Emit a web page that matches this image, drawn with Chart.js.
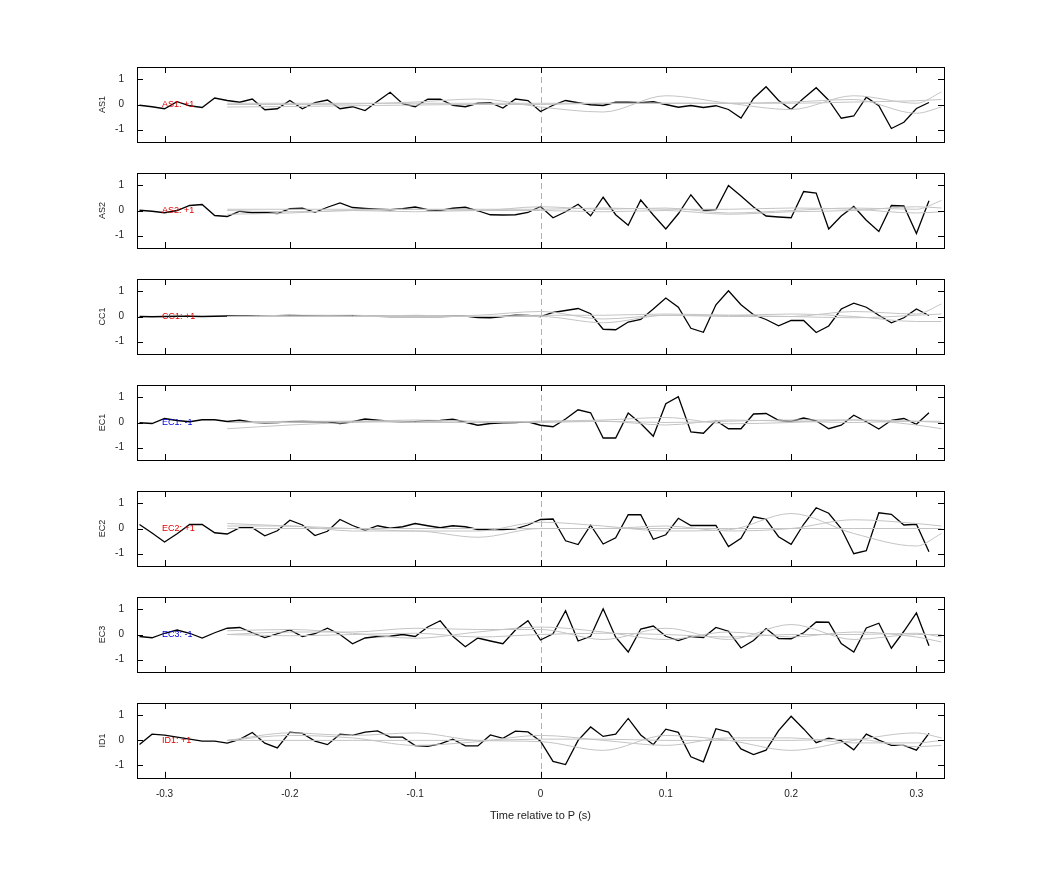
<!DOCTYPE html>
<html><head><meta charset="utf-8">
<script src="https://cdn.jsdelivr.net/npm/chart.js@4"></script>
<style>body{margin:0;background:#fff;width:1042px;height:875px;position:relative;overflow:hidden}.w{position:absolute;left:0;width:1042px}</style>
</head><body>
<script>
const channels=["AS1","AS2","CC1","EC1","EC2","EC3","ID1"];
const polarity=["+1","+1","+1","-1","+1","-1","+1"];
const tStart=-0.32, tStep=0.01;
const AS1=[-0.03,-0.09,-0.17,0.11,-0.05,-0.12,0.26,0.16,0.09,0.22,-0.21,-0.17,0.16,-0.17,0.08,0.18,-0.17,-0.09,-0.24,0.13,0.49,0.03,-0.09,0.21,0.21,-0.03,-0.09,0.05,0.07,-0.14,0.22,0.16,-0.28,-0.03,0.16,0.07,-0.01,-0.04,0.09,0.09,0.07,0.11,0,-0.11,-0.04,-0.12,-0.05,-0.2,-0.54,0.24,0.71,0.16,-0.2,0.25,0.67,0.17,-0.55,-0.46,0.29,-0.05,-0.96,-0.71,-0.16,0.08];
const AS2=[0.01,-0.03,-0.09,0,0.2,0.24,-0.2,-0.24,-0.03,-0.09,-0.08,-0.12,0.07,0.09,-0.07,0.13,0.3,0.12,0.08,0.05,0.03,0.07,0.14,0.03,0,0.09,0.13,-0.01,-0.17,-0.18,-0.17,-0.08,0.16,-0.29,-0.05,0.25,-0.21,0.53,-0.17,-0.59,0.42,-0.18,-0.74,-0.13,0.63,0.01,0.04,1.0,0.58,0.14,-0.22,-0.26,-0.29,0.76,0.70,-0.74,-0.22,0.16,-0.39,-0.84,0.2,0.18,-0.92,0.39];
const CC1=[0,-0.01,0,0.01,0.01,0,0.01,0.02,0.02,0.03,0.02,0.03,0.04,0.03,0.02,0.01,0.02,0.03,0.02,0.01,0.0,0.01,0.0,0.01,0.0,0.01,0.02,-0.04,-0.05,0.0,0.05,0.04,0,0.16,0.24,0.32,0.11,-0.51,-0.53,-0.22,-0.12,0.3,0.74,0.37,-0.47,-0.63,0.47,1.03,0.47,0.07,-0.12,-0.37,-0.16,-0.16,-0.64,-0.38,0.3,0.53,0.37,0.05,-0.25,-0.05,0.3,0.04];
const EC1=[-0.01,-0.04,0.16,0.08,0.03,0.11,0.11,0.04,0.09,0.01,-0.01,0,0.03,0.04,0.03,0.03,-0.04,0.03,0.14,0.09,0.05,0.03,0.03,0.07,0.08,0.13,0.01,-0.11,-0.04,-0.01,0,0.03,-0.11,-0.17,0.14,0.51,0.39,-0.62,-0.62,0.38,-0.04,-0.55,0.75,1.03,-0.38,-0.43,0.08,-0.25,-0.25,0.34,0.36,0.09,0.04,0.18,0.07,-0.25,-0.11,0.29,0.03,-0.26,0.09,0.16,-0.07,0.39];
const EC2=[0.16,-0.18,-0.54,-0.21,0.16,0.16,-0.17,-0.22,0.03,0.03,-0.29,-0.09,0.33,0.14,-0.28,-0.11,0.36,0.12,-0.07,0.11,0.01,0.07,0.2,0.11,0.03,0.11,0.07,-0.04,-0.04,-0.04,-0.01,0.14,0.36,0.38,-0.49,-0.64,0.13,-0.62,-0.37,0.55,0.55,-0.43,-0.25,0.41,0.12,0.12,0.12,-0.72,-0.39,0.47,0.37,-0.33,-0.63,0.17,0.83,0.61,0,-1.01,-0.89,0.63,0.57,0.14,0.17,-0.93];
const EC3=[-0.08,-0.13,0.05,0.18,0.05,-0.14,0.07,0.25,0.28,0.07,-0.12,0.03,0.18,-0.08,0.03,0.25,0,-0.37,-0.14,-0.08,-0.07,0,-0.08,0.3,0.55,-0.07,-0.49,-0.14,-0.26,-0.37,0.18,0.55,-0.22,0.03,0.95,-0.26,-0.07,1.03,-0.11,-0.7,0.22,0.34,-0.07,-0.24,-0.08,-0.12,0.28,0.13,-0.54,-0.24,0.24,-0.16,-0.17,0.07,0.5,0.49,-0.36,-0.7,0.26,0.45,-0.55,0.13,0.86,-0.45];
const ID1=[-0.16,0.25,0.21,0.13,0.05,-0.03,-0.03,-0.11,0.04,0.32,-0.11,-0.3,0.33,0.28,-0.03,-0.17,0.25,0.2,0.33,0.38,0.13,0.13,-0.21,-0.24,-0.14,0.05,-0.22,-0.22,0.22,0.08,0.37,0.34,-0.03,-0.84,-0.97,0,0.54,0.16,0.25,0.88,0.22,-0.17,0.45,0.32,-0.66,-0.86,0.47,0.33,-0.34,-0.57,-0.39,0.39,0.97,0.46,-0.09,0.09,-0.01,-0.38,0.25,0.01,-0.2,-0.2,-0.39,0.28];
const blackSeries=[AS1,AS2,CC1,EC1,EC2,EC3,ID1];
const grayT=[-0.25,-0.2,-0.15,-0.1,-0.05,0,0.05,0.1,0.15,0.2,0.25,0.3,0.32];
const grayAS1=[[0,0,0.02,0.1,0.22,-0.1,-0.3,0.35,0.05,-0.2,0.35,0.05,0.5],[-0.1,-0.08,-0.05,-0.02,0,0,0.05,0.05,0.05,0.1,0.2,-0.35,-0.1],[0.05,0.05,0.05,0.05,0.05,0.05,0.05,0.05,0.05,0.05,0.1,0.15,0.2]];
const grayAS2=[[0,-0.05,0,0.05,0,0.15,0.05,0.1,-0.1,0,0.1,0.05,0.4],[-0.15,-0.1,0,-0.05,0,0,-0.05,0,-0.15,-0.05,0,0.15,0.1],[0.05,0.05,0.05,0.05,0.05,0.05,0.1,0.05,0.05,0.1,0.05,-0.1,-0.05]];
const grayCC1=[[0,0,0,0,0.05,0.2,-0.1,0.05,0.05,0.1,0,-0.2,-0.2],[0,0,0,0.05,0,0,-0.25,0.05,0,0,0.2,0.1,0.5],[0,0.05,0.05,0,0,0.05,0.05,0.1,0.05,0,-0.05,0.05,0.1]];
const grayEC1=[[-0.25,-0.1,0,0.05,0,0.05,0.1,0.2,-0.05,0,0.1,0.05,0],[0,0.05,0.05,0.1,0.05,0,0.05,0,0.05,0.1,0.1,-0.1,-0.25],[0,0,0.05,0,0,0.05,0.05,-0.1,0.1,0.05,0,0.05,0.05]];
const grayEC2=[[0.2,0.1,0,-0.1,-0.1,0.25,0.1,-0.1,-0.05,0.6,-0.2,-0.7,-0.2],[0.1,0.1,-0.1,-0.1,-0.35,0,0,0.1,-0.1,0,0.35,0.2,0.1],[0,0,0,0,0,0,0,0,0,0,0,0,0]];
const grayEC3=[[0,0.1,0.1,0.25,0.2,0.2,-0.2,0.25,-0.2,0.4,-0.2,0,0],[0.15,0.2,0.05,-0.15,0.1,0.3,0.1,-0.2,0.1,-0.1,0.1,-0.1,-0.3],[0,-0.05,0,0.05,-0.1,0,0.05,0,-0.1,0,0,0.05,-0.1]];
const grayID1=[[0,0.3,0.2,0.3,0,-0.05,-0.4,0.2,0,-0.4,0,0.3,0.1],[0,0.2,0.1,-0.2,-0.05,0.2,0,-0.2,0.1,0.1,-0.1,-0.1,0],[0,0,0,0,0,0.05,0.05,0,0,0,0.05,-0.25,-0.2]];
const graySeries=[grayAS1,grayAS2,grayCC1,grayEC1,grayEC2,grayEC3,grayID1];
const xTicks=[-0.3,-0.2,-0.1,0,0.1,0.2,0.3];
const yTicks=[-1,0,1];
const panelTops=[67,173,279,385,491,597,703];
const H=75;
const FONT="'Liberation Sans', Arial, sans-serif";

const framePlugin={id:'frame',
 beforeDatasetsDraw(c){const a=c.chartArea,ctx=c.ctx,x=c.scales.x;ctx.save();
  ctx.strokeStyle='#e89a9a';ctx.lineWidth=1;ctx.setLineDash([6,4]);
  const px=Math.round(x.getPixelForValue(0))+0.5;ctx.beginPath();ctx.moveTo(px,a.top);ctx.lineTo(px,a.bottom);ctx.stroke();ctx.restore();},
 afterDraw(c){const a=c.chartArea,ctx=c.ctx,x=c.scales.x,y=c.scales.y,o=c.options.plugins.frame;ctx.save();
  ctx.strokeStyle='#000';ctx.lineWidth=1;
  ctx.strokeRect(Math.round(a.left)+0.5,Math.round(a.top)+0.5,Math.round(a.right-a.left),Math.round(a.bottom-a.top));
  ctx.beginPath();
  xTicks.forEach(t=>{const p=Math.round(x.getPixelForValue(t))+0.5;ctx.moveTo(p,a.top);ctx.lineTo(p,a.top+6);ctx.moveTo(p,a.bottom);ctx.lineTo(p,a.bottom-6);});
  yTicks.forEach(t=>{const p=Math.round(y.getPixelForValue(t))+0.5;ctx.moveTo(a.left,p);ctx.lineTo(a.left+6,p);ctx.moveTo(a.right,p);ctx.lineTo(a.right-6,p);});
  ctx.stroke();
  ctx.fillStyle=o.color;ctx.font='9px '+FONT;ctx.textBaseline='middle';ctx.textAlign='left';
  ctx.fillText(o.label,x.getPixelForValue(-0.302),y.getPixelForValue(0));
  ctx.fillStyle='#222';ctx.textAlign='center';ctx.translate(103,(a.top+a.bottom)/2);ctx.rotate(-Math.PI/2);
  ctx.fillText(o.name,0,0);
  ctx.restore();}};

channels.forEach((ch,k)=>{
 const last=k===channels.length-1;
 const div=document.createElement('div');div.className='w';
 const h=last?H+60:H+22;
 div.style.top=(panelTops[k]-11)+'px';div.style.height=h+'px';
 const cv=document.createElement('canvas');div.appendChild(cv);document.body.appendChild(div);
 const ds=[];
 graySeries[k].forEach(g=>ds.push({data:grayT.map((t,i)=>({x:t,y:g[i]})),borderColor:'#c4c4c4',borderWidth:1,pointRadius:0,tension:0.4,cubicInterpolationMode:'monotone'}));
 ds.push({data:blackSeries[k].map((v,i)=>({x:+(tStart+i*tStep).toFixed(2),y:v})),borderColor:'#000',borderWidth:1.3,pointRadius:0,tension:0});
 new Chart(cv,{type:'line',data:{datasets:ds},
  options:{responsive:true,maintainAspectRatio:false,animation:false,
   layout:{padding:{top:5,right:98,bottom:last?0:5,left:0}},
   plugins:{legend:{display:false},tooltip:{enabled:false},
     frame:{name:ch,label:ch+': '+polarity[k],color:polarity[k]==='+1'?'#e00000':'#0000e0'}},
   scales:{
    x:{type:'linear',min:-0.322,max:0.322,display:last,
      afterBuildTicks:s=>{s.ticks=xTicks.map(v=>({value:v}));},
      grid:{display:false},border:{display:false},
      ticks:{font:{size:10,family:FONT},color:'#222',padding:2,callback:v=>v===0?'0':String(v)},
      title:{display:true,text:'Time relative to P (s)',font:{size:11,family:FONT},color:'#222',padding:{top:8}}},
    y:{min:-1.5,max:1.5,afterBuildTicks:s=>{s.ticks=yTicks.map(v=>({value:v}));},
      grid:{display:false},border:{display:false},
      ticks:{font:{size:10,family:FONT},color:'#222',padding:5},
      afterFit:s=>{s.width=137;}}
   }},plugins:[framePlugin]});
});
</script>
</body></html>
